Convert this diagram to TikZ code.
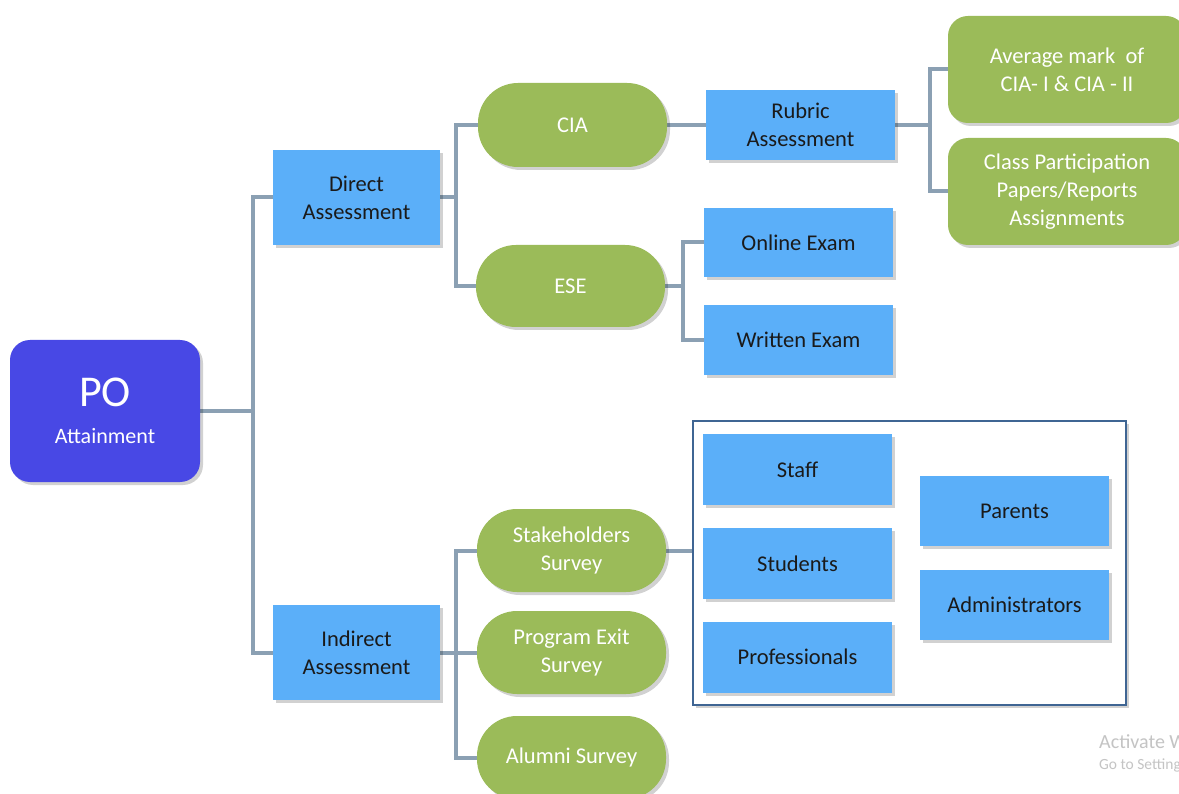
\documentclass[tikz,border=0pt]{standalone}
\usepackage{fontspec}
\setmainfont{Carlito}
\usetikzlibrary{shadows,backgrounds}
\definecolor{bluebox}{HTML}{5BAFF9}
\definecolor{greenbox}{HTML}{9BBB59}
\definecolor{pobox}{HTML}{4848E5}
\definecolor{connc}{HTML}{8BA0B3}
\definecolor{framec}{HTML}{3F6593}
\definecolor{txtc}{HTML}{1A1A1A}
\definecolor{wmc}{HTML}{C4C4C4}
\tikzset{
  shd/.style={drop shadow={shadow xshift=3pt, shadow yshift=-3pt, opacity=0.18, fill=black}},
  bbox/.style={shd, rectangle, fill=bluebox, text=txtc, align=center, inner sep=0pt,
    font=\fontsize{22.5}{28}\selectfont},
  gpill/.style={shd, rectangle, rounded corners=40pt, fill=greenbox, text=white, align=center, inner sep=0pt,
    font=\fontsize{22.5}{28}\selectfont},
  gbox/.style={shd, rectangle, rounded corners=20pt, fill=greenbox, text=white, align=center, inner sep=0pt,
    font=\fontsize{22.5}{28}\selectfont},
  conn/.style={draw=connc, line width=4pt},
}
\begin{document}
\begin{tikzpicture}[x=1pt,y=-1pt]
\useasboundingbox (0,0) rectangle (1179,794);
\clip (0,0) rectangle (1179,794);

% frame
\node[shd, draw=framec, line width=2.5pt, fill=white, minimum width=433pt, minimum height=284pt, inner sep=0pt] (frame) at (909.5,563) {};

% nodes
\node[shd, rectangle, rounded corners=20pt, fill=pobox, text=white, align=center, inner sep=0pt,
  minimum width=190pt, minimum height=142pt, font=\fontsize{22}{37}\selectfont] (po) at (105,411)
  {{\fontsize{44}{37}\selectfont PO}\\Attainment};

\node[bbox, minimum width=167pt, minimum height=95pt] (direct) at (356.5,197.5) {Direct\\Assessment};
\node[bbox, minimum width=167pt, minimum height=95pt] (indirect) at (356.5,652.5) {Indirect\\Assessment};

\node[gpill, minimum width=189pt, minimum height=84pt] (cia) at (572.5,125) {CIA};
\node[gpill, minimum width=189pt, minimum height=82pt] (ese) at (570.5,286) {ESE};

\node[bbox, minimum width=189pt, minimum height=70pt] (rubric) at (800.5,125) {Rubric\\Assessment};
\node[gbox, minimum width=238pt, minimum height=107pt] (avg) at (1067,69.5) {Average mark \ of\\CIA- I \& CIA - II};
\node[gbox, minimum width=238pt, minimum height=107pt] (class) at (1067,191.5) {Class Participation\\Papers/Reports\\Assignments};

\node[bbox, minimum width=189pt, minimum height=69pt] (online) at (798.5,242.5) {Online Exam};
\node[bbox, minimum width=189pt, minimum height=70pt] (written) at (798.5,340) {Written Exam};

\node[gpill, minimum width=189pt, minimum height=83pt] (stake) at (571.5,550.5) {Stakeholders\\Survey};
\node[gpill, minimum width=189pt, minimum height=83pt] (exit) at (571.5,652.5) {Program Exit\\Survey};
\node[gpill, minimum width=189pt, minimum height=83pt] (alumni) at (571.5,757.5) {Alumni Survey};

\node[bbox, minimum width=189pt, minimum height=71pt] (staff) at (797.5,469.5) {Staff};
\node[bbox, minimum width=189pt, minimum height=71pt] (students) at (797.5,563.5) {Students};
\node[bbox, minimum width=189pt, minimum height=71pt] (prof) at (797.5,657) {Professionals};
\node[bbox, minimum width=189pt, minimum height=70pt] (parents) at (1014.5,511) {Parents};
\node[bbox, minimum width=189pt, minimum height=70pt] (admin) at (1014.5,605) {Administrators};

% connectors
\coordinate (j0) at (253,0);
\coordinate (j1) at (456,0);
\coordinate (j2) at (930,0);
\coordinate (j3) at (683,0);
\begin{scope}[on background layer]
\fill[white] (0,0) rectangle (1179,794);
\draw[conn] (po.east) -- (j0 |- po.east);
\draw[conn] (direct.west) -| (j0 |- indirect.west) -- (indirect.west);
\draw[conn] (direct.east) -- (j1 |- direct.east);
\draw[conn] (cia.west) -| (j1 |- ese.west) -- (ese.west);
\draw[conn] (cia.east) -- (rubric.west);
\draw[conn] (rubric.east) -- (j2 |- rubric.east);
\draw[conn] (avg.west) -| (j2 |- class.west) -- (class.west);
\draw[conn] (ese.east) -- (j3 |- ese.east);
\draw[conn] (online.west) -| (j3 |- written.west) -- (written.west);
\draw[conn] (indirect.east) -- (exit.west);
\draw[conn] (stake.west) -| (j1 |- alumni.west) -- (alumni.west);
\draw[conn] (stake.east) -- (frame.west |- stake.east);
\end{scope}

% watermark
\node[anchor=west, text=wmc, inner sep=0pt, font=\fontsize{20}{22}\selectfont] (wm1) at (1099,742) {Activate Windows};
\node[anchor=west, text=wmc, inner sep=0pt, font=\fontsize{15.5}{17}\selectfont] (wm2) at (1099,765) {Go to Settings to activate Windows.};
\end{tikzpicture}
\end{document}
